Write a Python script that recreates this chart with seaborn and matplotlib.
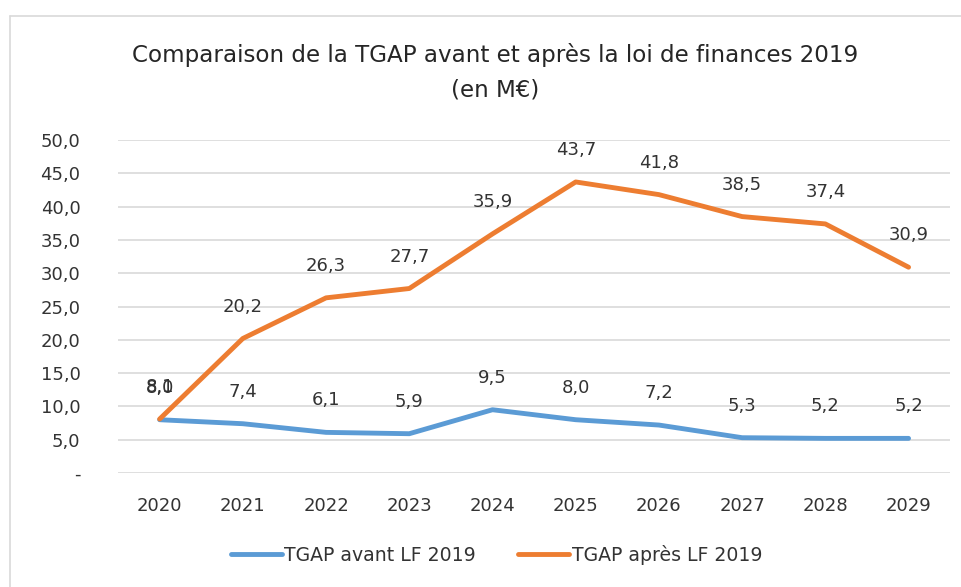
import matplotlib
matplotlib.use("Agg")
import matplotlib.pyplot as plt
from matplotlib.lines import Line2D
import seaborn as sns
import pandas as pd

# data (M€)
years = ["2020", "2021", "2022", "2023", "2024", "2025", "2026", "2027", "2028", "2029"]
avant = [8.0, 7.4, 6.1, 5.9, 9.5, 8.0, 7.2, 5.3, 5.2, 5.2]
apres = [8.1, 20.2, 26.3, 27.7, 35.9, 43.7, 41.8, 38.5, 37.4, 30.9]
series_names = ["TGAP avant LF 2019", "TGAP après LF 2019"]
y_ticks = [0, 5, 10, 15, 20, 25, 30, 35, 40, 45, 50]

df = pd.DataFrame({"Année": years, series_names[0]: avant, series_names[1]: apres})
long = df.melt(id_vars="Année", var_name="Série", value_name="Valeur")

sns.set_style("white")
plt.rcParams["font.family"] = ["DejaVu Sans"]

colors = {series_names[0]: "#5B9BD5", series_names[1]: "#ED7D31"}
txt = "#333333"

fig = plt.figure(figsize=(9.62, 5.87), dpi=100)
ax = fig.add_axes([0.1227, 0.1942, 0.865, 0.5673])

sns.lineplot(data=long, x="Année", y="Valeur", hue="Série", palette=colors,
             linewidth=3.5, sort=False, ax=ax, legend=False, solid_capstyle="round")

# data labels above each point
for name in series_names:
    for i, v in enumerate(df[name]):
        ax.annotate(f"{v:.1f}".replace(".", ","), (i, v), xytext=(0, 23),
                    textcoords="offset points", ha="center", va="center",
                    fontsize=13, color=txt)

ax.set_xlim(-0.5, len(years) - 0.5)
ax.set_ylim(0, 50)
ax.set_yticks(y_ticks)
ax.set_yticklabels(["-" if t == 0 else f"{t:.1f}".replace(".", ",") for t in y_ticks])
ax.grid(axis="y", color="#d9d9d9", linewidth=1.2)
ax.grid(axis="x", visible=False)
for s in ax.spines.values():
    s.set_visible(False)
ax.tick_params(axis="both", length=0, labelsize=13, colors=txt)
ax.tick_params(axis="x", pad=17)
ax.tick_params(axis="y", pad=27)
ax.set_xlabel("")
ax.set_ylabel("")

fig.text(0.515, 0.906, "Comparaison de la TGAP avant et après la loi de finances 2019",
         ha="center", va="center", fontsize=16.6, color="#262626")
fig.text(0.515, 0.847, "(en M€)", ha="center", va="center", fontsize=16.6, color="#262626")

handles = [Line2D([], [], color=colors[n], linewidth=3.5, solid_capstyle="round") for n in series_names]
fig.legend(handles, series_names, loc="center", bbox_to_anchor=(0.516, 0.0545), ncol=2,
           frameon=False, fontsize=13.6, handlelength=2.7, handletextpad=0.15, columnspacing=2.2,
           labelcolor=txt)

# chart area border: only the left and top edges are visible in the crop
bx, by = 10 / 962, 1 - 16 / 587
fig.lines.append(Line2D([bx, bx], [0, by], transform=fig.transFigure, color="#d9d9d9", linewidth=1.2))
fig.lines.append(Line2D([bx, 1], [by, by], transform=fig.transFigure, color="#d9d9d9", linewidth=1.2))

fig.savefig("out.png", dpi=100)
